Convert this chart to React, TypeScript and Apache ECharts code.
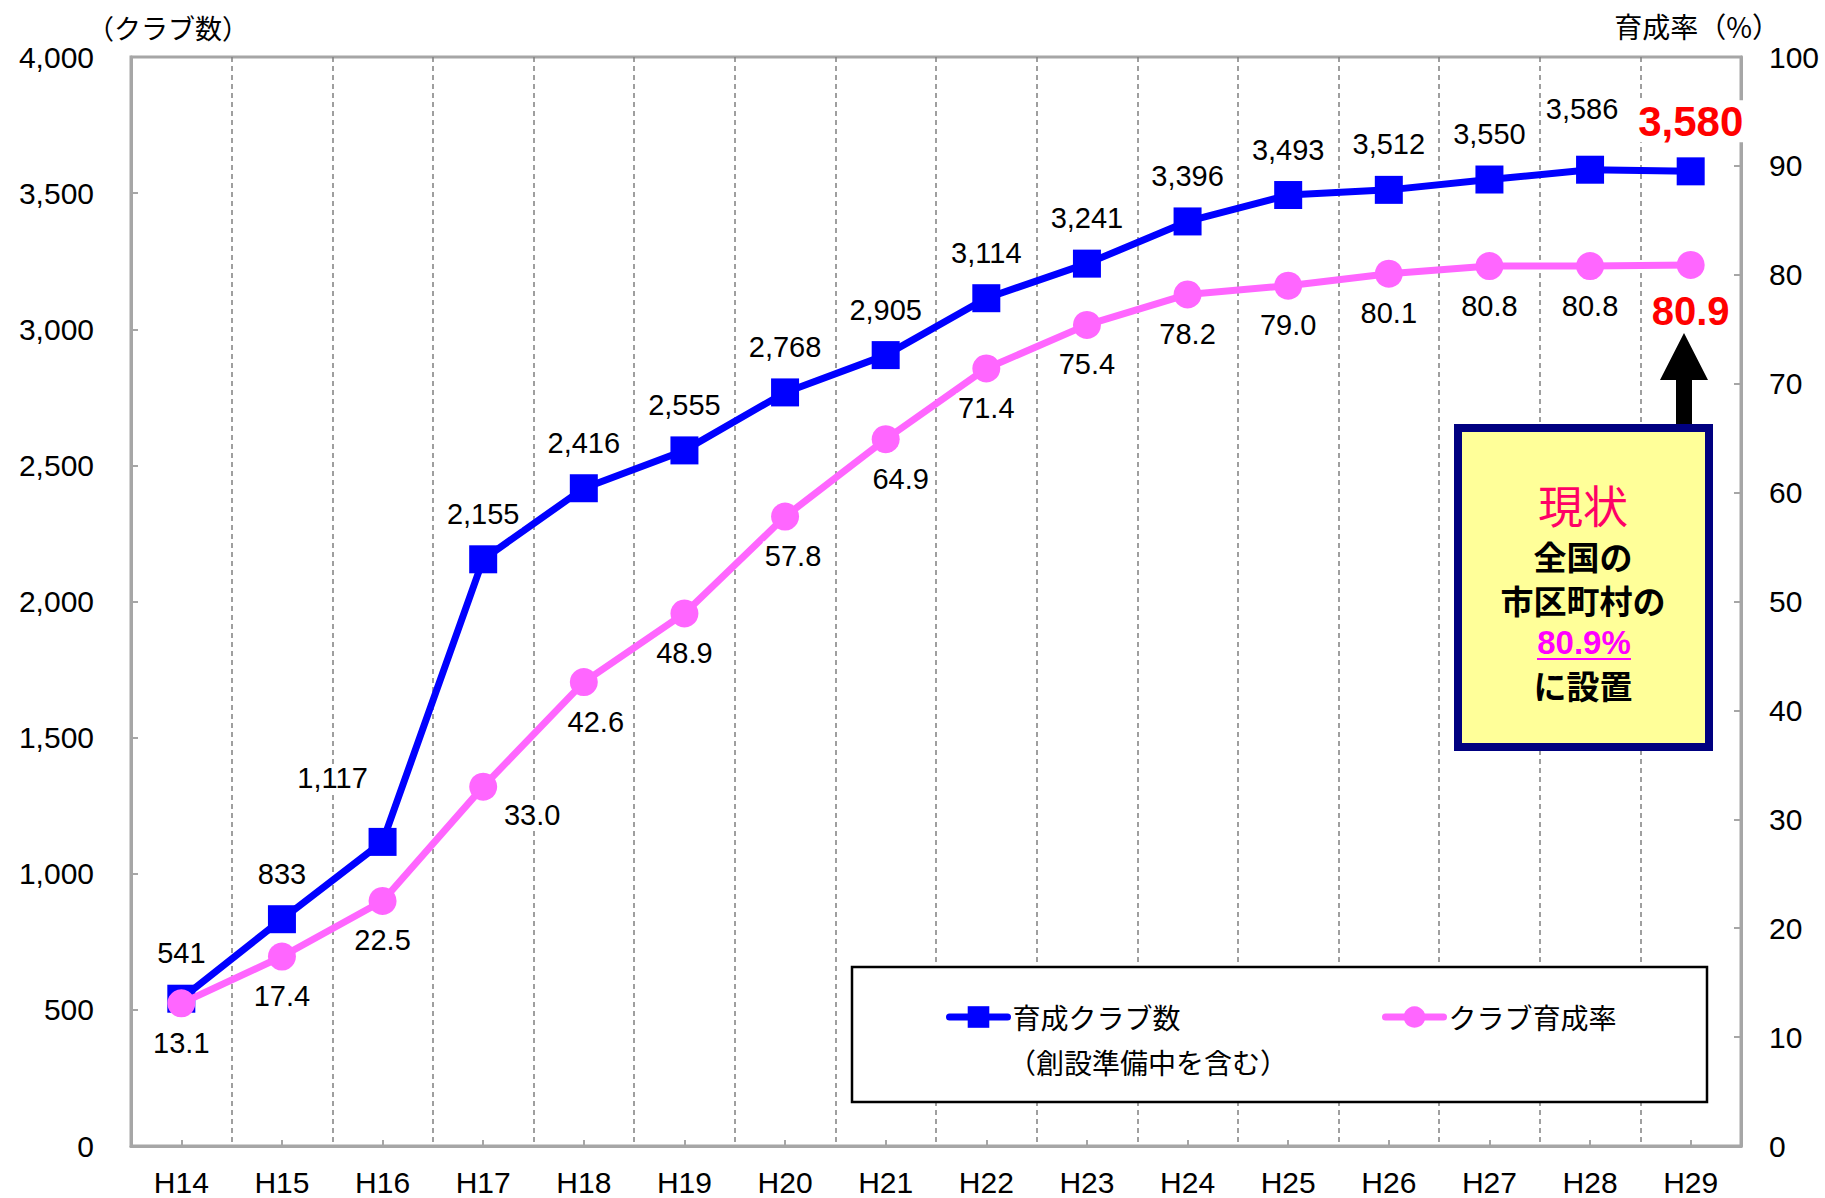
import React, { useEffect, useRef } from "react";
import * as echarts from "echarts";

const categories = ["H14", "H15", "H16", "H17", "H18", "H19", "H20", "H21", "H22", "H23", "H24", "H25", "H26", "H27", "H28", "H29"];
const clubCounts = [541, 833, 1117, 2155, 2416, 2555, 2768, 2905, 3114, 3241, 3396, 3493, 3512, 3550, 3586, 3580];
const clubRates = [13.1, 17.4, 22.5, 33.0, 42.6, 48.9, 57.8, 64.9, 71.4, 75.4, 78.2, 79.0, 80.1, 80.8, 80.8, 80.9];
const leftAxis = { min: 0, max: 4000, interval: 500 };
const rightAxis = { min: 0, max: 100, interval: 10 };
const seriesNames = ["育成クラブ数", "クラブ育成率"];
const legendSubText = "（創設準備中を含む）";
const leftAxisName = "（クラブ数）";
const rightAxisName = "育成率（%）";
const noteLines = ["現状", "全国の", "市区町村の", "80.9%", "に設置"];

const FONT = "'Liberation Sans', 'Noto Sans CJK JP', sans-serif";
const CJK = "'Noto Sans CJK JP', 'Liberation Sans', sans-serif";

const fmtComma = (v: number) => Number(v).toLocaleString("en-US");

// label offsets (layout only)
const blueLabelOffsets: Record<number, number[]> = { 2: [-50, -18], 14: [-8, -15] };
const pinkLabelOffsets: Record<number, number[]> = { 3: [49, -11], 4: [12, 0], 6: [8, 0], 7: [15, 0] };

export default function App() {
  const ref = useRef<HTMLDivElement>(null);
  useEffect(() => {
    if (!ref.current) return;
    const chart = echarts.init(ref.current, null, { renderer: "svg" });
    const last = categories.length - 1;

    const blueData = clubCounts.map((v, i) => {
      const item: any = { value: v };
      if (i === last) {
        item.label = { fontSize: 42, fontWeight: "bold", color: "#FF0000", distance: 15 };
      } else if (blueLabelOffsets[i]) {
        item.label = { offset: blueLabelOffsets[i] };
      }
      return item;
    });
    const pinkData = clubRates.map((v, i) => {
      const item: any = { value: v };
      if (i === last) {
        item.label = { fontSize: 40, fontWeight: "bold", color: "#FF0000", distance: 12 };
      } else if (pinkLabelOffsets[i]) {
        item.label = { offset: pinkLabelOffsets[i] };
      }
      return item;
    });

    const legendCommon = {
      orient: "horizontal",
      padding: 0,
      itemWidth: 58,
      itemHeight: 27,
      textStyle: { fontSize: 28, color: "#000", fontFamily: CJK },
      lineStyle: { width: 7, cap: "round" },
      selectedMode: false,
    };

    const option: any = {
      animation: false,
      backgroundColor: "#fff",
      textStyle: { fontFamily: FONT },
      grid: {
        left: 131,
        right: 84,
        top: 57,
        bottom: 52,
        show: true,
        borderColor: "#A6A6A6",
        borderWidth: 3,
        backgroundColor: "transparent",
      },
      legend: [
        { ...legendCommon, data: [seriesNames[0]], left: 946, top: 1003 },
        { ...legendCommon, data: [seriesNames[1]], left: 1382, top: 1003 },
      ],
      xAxis: {
        type: "category",
        data: categories,
        boundaryGap: true,
        axisLine: { show: true, lineStyle: { color: "#A6A6A6", width: 3 } },
        axisTick: { show: true, alignWithLabel: true, inside: true, length: 6, lineStyle: { color: "#A6A6A6", width: 2 } },
        axisLabel: { fontSize: 30, color: "#000", margin: 21, fontFamily: FONT },
        splitLine: { show: true, lineStyle: { color: "#808080", type: [5, 4], width: 1.5 } },
      },
      yAxis: [
        {
          type: "value",
          position: "left",
          min: leftAxis.min,
          max: leftAxis.max,
          interval: leftAxis.interval,
          axisLine: { show: true, lineStyle: { color: "#A6A6A6", width: 3 } },
          axisTick: { show: true, inside: true, length: 7, lineStyle: { color: "#A6A6A6", width: 2 } },
          axisLabel: { fontSize: 30, color: "#000", margin: 37, formatter: (v: number) => fmtComma(v), fontFamily: FONT },
          splitLine: { show: false },
        },
        {
          type: "value",
          position: "right",
          min: rightAxis.min,
          max: rightAxis.max,
          interval: rightAxis.interval,
          axisLine: { show: true, lineStyle: { color: "#A6A6A6", width: 3 } },
          axisTick: { show: true, inside: true, length: 7, lineStyle: { color: "#A6A6A6", width: 2 } },
          axisLabel: { fontSize: 30, color: "#000", margin: 28, fontFamily: FONT },
          splitLine: { show: false },
        },
      ],
      series: [
        {
          name: seriesNames[0],
          type: "line",
          yAxisIndex: 0,
          data: blueData,
          symbol: "rect",
          symbolSize: 28,
          color: "#0000FF",
          itemStyle: { color: "#0000FF" },
          lineStyle: { color: "#0000FF", width: 7 },
          z: 3,
          label: {
            show: true,
            position: "top",
            distance: 17,
            fontSize: 29,
            color: "#000",
            fontFamily: FONT,
            backgroundColor: "#fff",
            padding: [0, 2],
            formatter: (p: any) => fmtComma(p.value),
          },
        },
        {
          name: seriesNames[1],
          type: "line",
          yAxisIndex: 1,
          data: pinkData,
          symbol: "circle",
          symbolSize: 28,
          color: "#FF66FF",
          itemStyle: { color: "#FF66FF" },
          lineStyle: { color: "#FF66FF", width: 7 },
          z: 4,
          label: {
            show: true,
            position: "bottom",
            distance: 11,
            fontSize: 29,
            color: "#000",
            fontFamily: FONT,
            backgroundColor: "#fff",
            padding: [0, 2],
            formatter: (p: any) => Number(p.value).toFixed(1),
          },
        },
      ],
      graphic: [
        // legend frame
        {
          type: "rect",
          z: 1,
          shape: { x: 852, y: 967, width: 855, height: 135 },
          style: { fill: "#fff", stroke: "#000", lineWidth: 2.5 },
        },
        {
          type: "text",
          z: 5,
          x: 1008,
          y: 1062,
          style: { text: legendSubText, fontSize: 28, fill: "#000", fontFamily: CJK, textAlign: "left", textVerticalAlign: "middle" },
        },
        // axis names
        {
          type: "text",
          z: 5,
          x: 168,
          y: 27,
          style: { text: leftAxisName, fontSize: 27, fill: "#000", fontFamily: CJK, textAlign: "center", textVerticalAlign: "middle" },
        },
        {
          type: "text",
          z: 5,
          x: 1780,
          y: 26,
          style: { text: rightAxisName, fontSize: 28, fill: "#000", fontFamily: CJK, textAlign: "right", textVerticalAlign: "middle" },
        },
        // arrow
        {
          type: "polygon",
          z: 5,
          shape: {
            points: [
              [1676, 428],
              [1676, 380],
              [1660, 380],
              [1684, 333],
              [1708, 380],
              [1692, 380],
              [1692, 428],
            ],
          },
          style: { fill: "#000" },
        },
        // note box
        {
          type: "rect",
          z: 5,
          shape: { x: 1458, y: 428, width: 251, height: 319 },
          style: { fill: "#FFFF99", stroke: "#000080", lineWidth: 8 },
        },
        {
          type: "text",
          z: 6,
          x: 1583,
          y: 504,
          style: { text: noteLines[0], fontSize: 45, fill: "#FF0066", fontFamily: CJK, textAlign: "center", textVerticalAlign: "middle" },
        },
        {
          type: "text",
          z: 6,
          x: 1583,
          y: 556,
          style: { text: noteLines[1], fontSize: 33, fontWeight: "bold", fill: "#000", fontFamily: CJK, textAlign: "center", textVerticalAlign: "middle" },
        },
        {
          type: "text",
          z: 6,
          x: 1583,
          y: 600,
          style: { text: noteLines[2], fontSize: 33, fontWeight: "bold", fill: "#000", fontFamily: CJK, textAlign: "center", textVerticalAlign: "middle" },
        },
        {
          type: "text",
          z: 6,
          x: 1584,
          y: 642,
          style: { text: noteLines[3], fontSize: 33, fontWeight: "bold", fill: "#FF00FF", fontFamily: FONT, textAlign: "center", textVerticalAlign: "middle" },
        },
        {
          type: "line",
          z: 6,
          shape: { x1: 1537, y1: 659, x2: 1631, y2: 659 },
          style: { stroke: "#FF00FF", lineWidth: 2 },
        },
        {
          type: "text",
          z: 6,
          x: 1583,
          y: 685,
          style: { text: noteLines[4], fontSize: 33, fontWeight: "bold", fill: "#000", fontFamily: CJK, textAlign: "center", textVerticalAlign: "middle" },
        },
      ],
    };

    chart.setOption(option);
    return () => chart.dispose();
  }, []);

  return (
    <div
      ref={ref}
      style={{ position: "absolute", left: 0, top: 0, width: 1825, height: 1198, background: "#fff" }}
    />
  );
}
